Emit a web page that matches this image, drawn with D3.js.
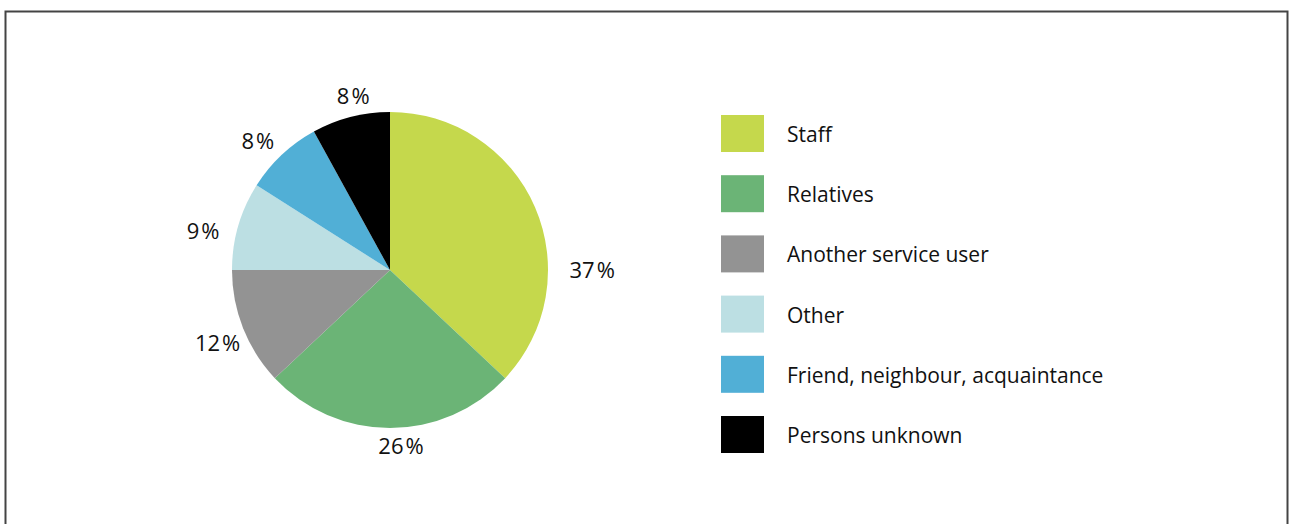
<!DOCTYPE html>
<html>
<head>
<meta charset="utf-8">
<script src="https://cdn.jsdelivr.net/npm/d3@7"></script>
<style>
  html, body { margin: 0; padding: 0; background: #fff; }
  svg { display: block; }
  text { font-family: "Open Sans", "Noto Sans", sans-serif; fill: #111; }
</style>
</head>
<body>
<svg id="chart" width="1290" height="524"></svg>
<script>
// Who the alleged abusers were (share of cases, %)
const categories = ["Staff", "Relatives", "Another service user", "Other",
                    "Friend, neighbour, acquaintance", "Persons unknown"];
const shares = [37, 26, 12, 9, 8, 8];
const colours = ["#c5d84c", "#6bb476", "#939393", "#bcdfe3", "#51afd6", "#000000"];

// Layout
const W = 1290, H = 524;
const cx = 390, cy = 270, radius = 158;
const labelRadius = 180;
// small hand placements for the outside value labels (px)
const labelNudge = [[37, 72], [11, -4], [-5, 7], [-14, 11], [-9, 2], [8, 0]];

const svg = d3.select("#chart");

// outer frame
svg.append("rect")
  .attr("x", 5.5).attr("y", 11.5)
  .attr("width", 1282).attr("height", H + 20)
  .attr("fill", "none").attr("stroke", "#444").attr("stroke-width", 2);

const data = categories.map((c, i) => ({ name: c, value: shares[i], colour: colours[i], i }));

const pie = d3.pie().sort(null).value(d => d.value);
const arc = d3.arc().innerRadius(0).outerRadius(radius);
const labelArc = d3.arc().innerRadius(labelRadius).outerRadius(labelRadius);

const g = svg.append("g").attr("transform", `translate(${cx},${cy})`);
const arcs = pie(data);

g.selectAll("path.slice")
  .data(arcs)
  .join("path")
  .attr("class", "slice")
  .attr("d", arc)
  .attr("fill", d => d.data.colour);

const pct = g.selectAll("text.pct")
  .data(arcs)
  .join("text")
  .attr("class", "pct")
  .attr("transform", d => {
    const [x, y] = labelArc.centroid(d);
    const [nx, ny] = labelNudge[d.data.i];
    return `translate(${x + nx},${y + ny})`;
  })
  .attr("text-anchor", "middle")
  .attr("dy", "0.36em")
  .style("font-size", "22px");
pct.append("tspan").text(d => d.data.value);
pct.append("tspan").attr("dx", 2).text("%");

// legend
const legendY = d3.scalePoint().domain(categories).range([115, 416]);
const legend = svg.append("g").attr("transform", "translate(721,0)");
const rows = legend.selectAll("g.row")
  .data(data)
  .join("g")
  .attr("class", "row")
  .attr("transform", d => `translate(0,${legendY(d.name)})`);

rows.append("rect")
  .attr("width", 43).attr("height", 37)
  .attr("fill", d => d.colour);

rows.append("text")
  .attr("x", 66).attr("y", 27)
  .style("font-size", "21px")
  .text(d => d.name);
</script>
</body>
</html>
